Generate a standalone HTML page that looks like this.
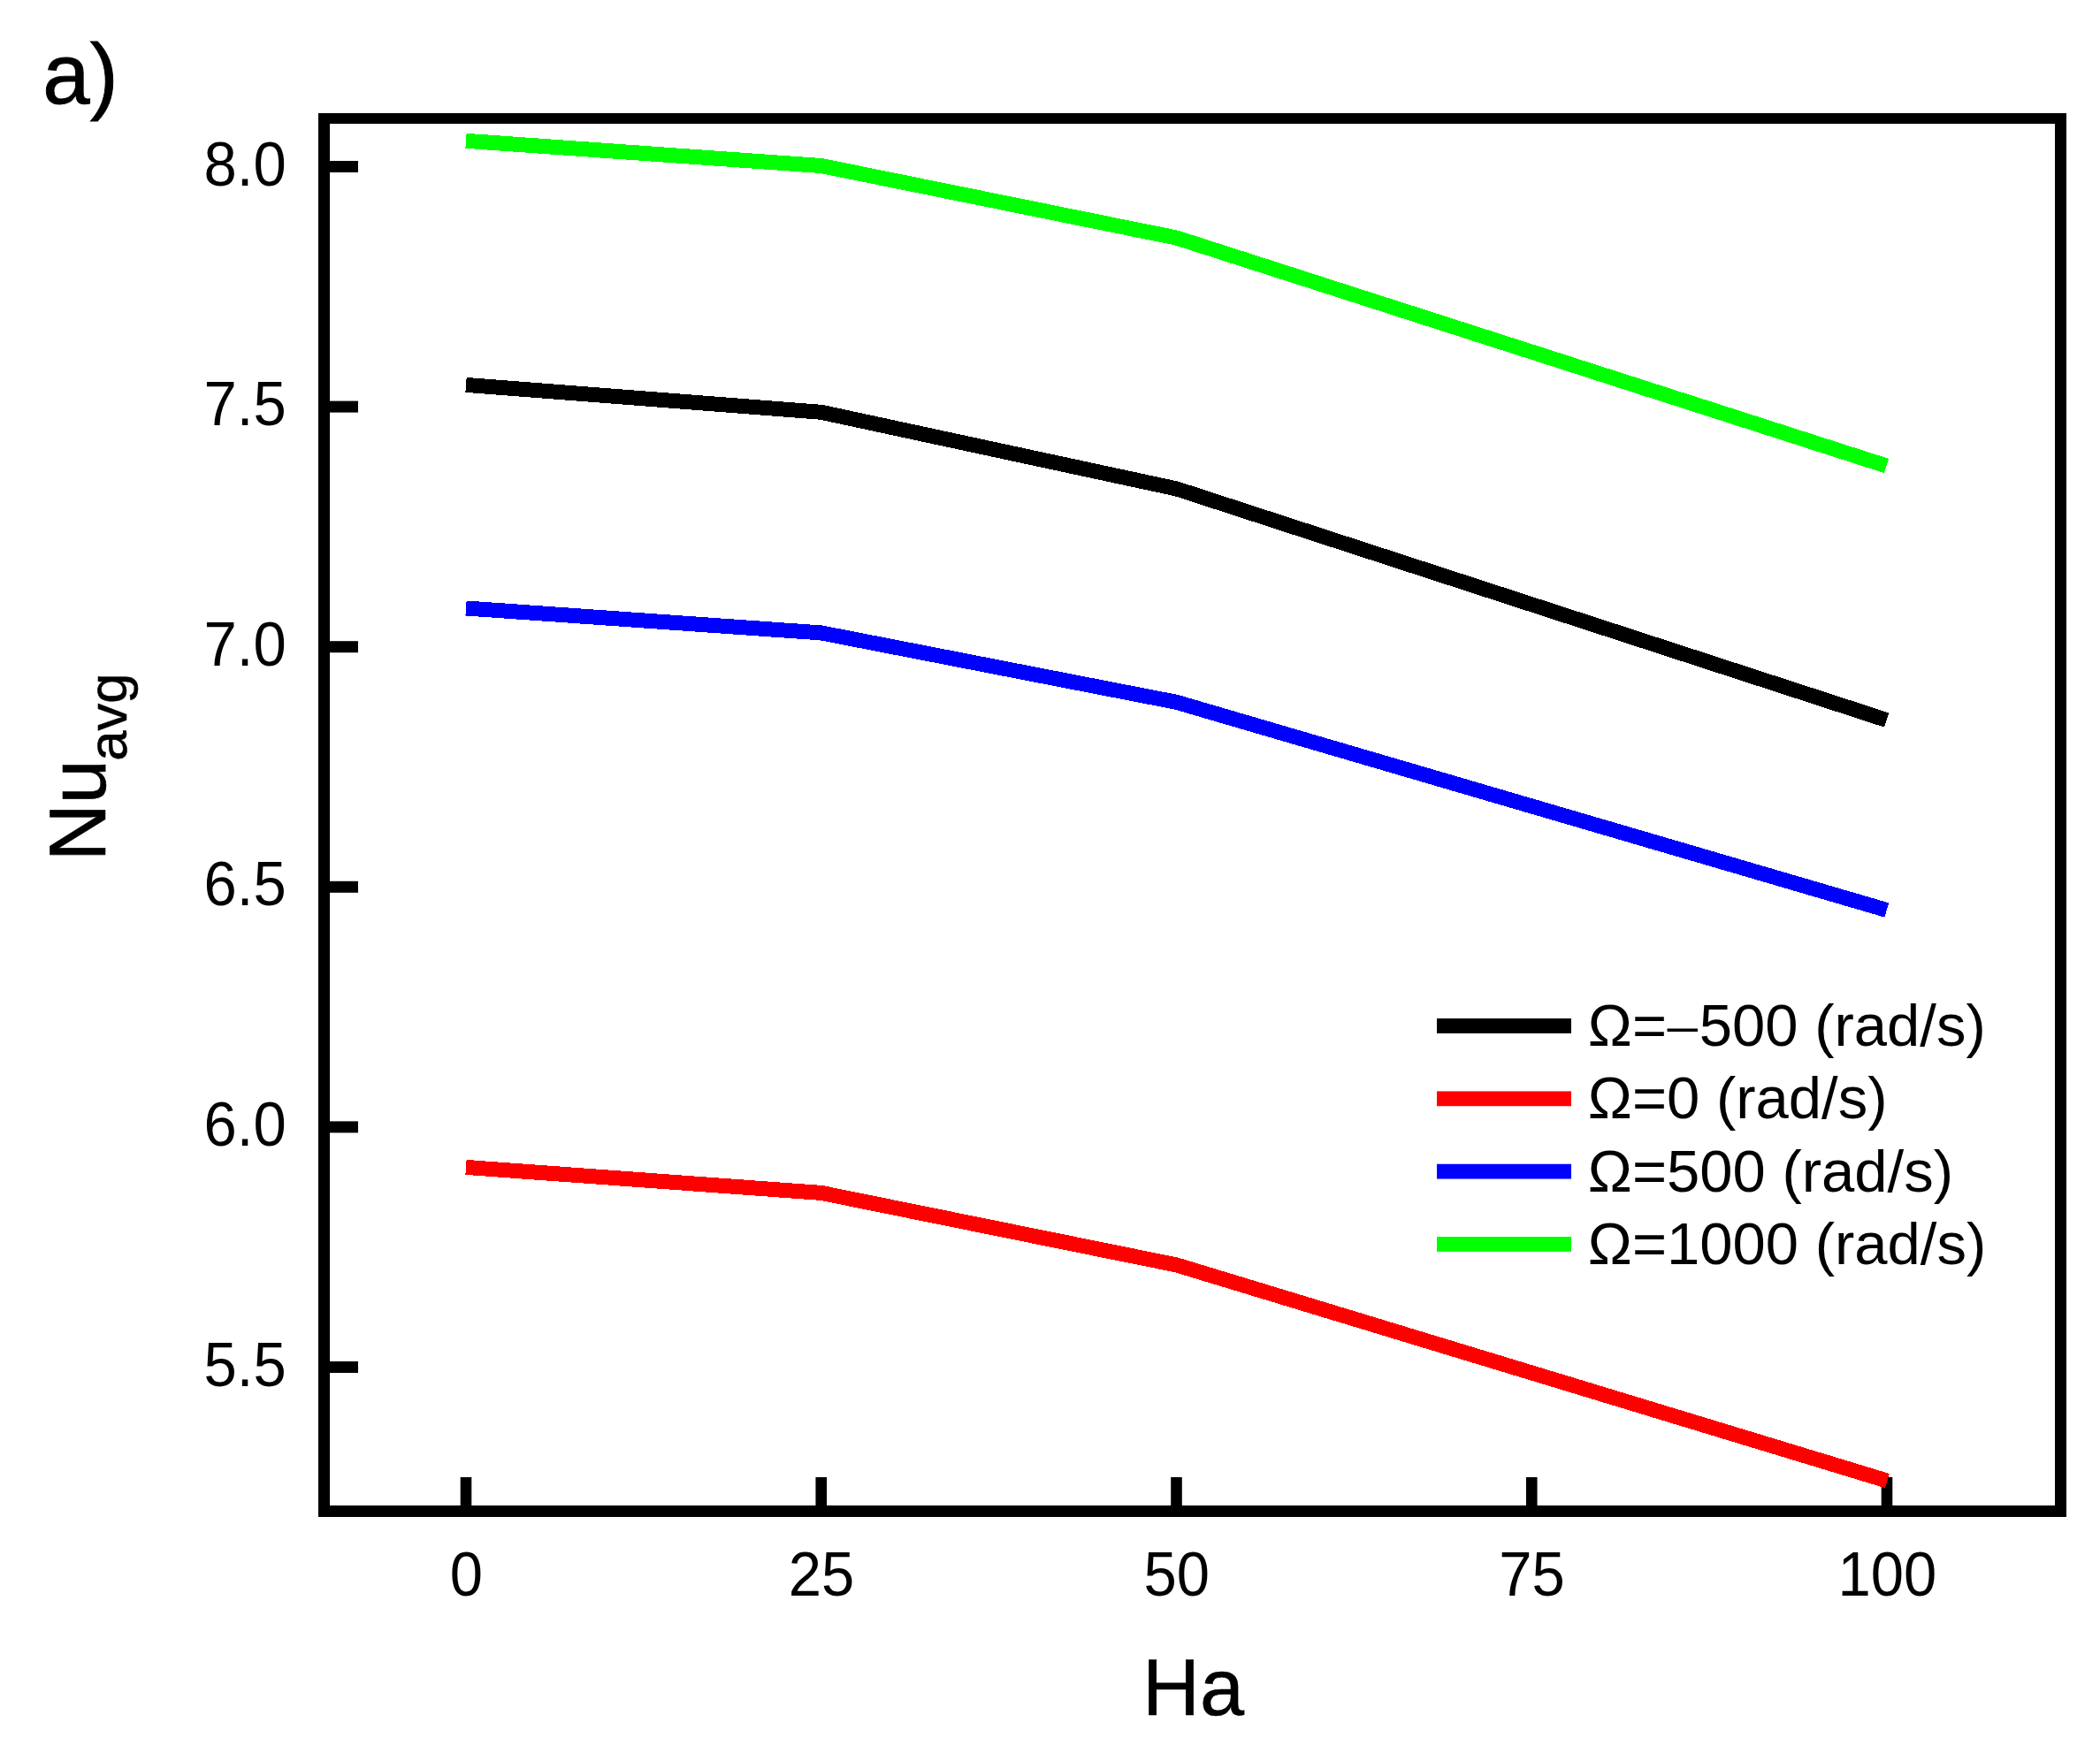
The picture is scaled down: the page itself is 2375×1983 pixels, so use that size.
<!DOCTYPE html>
<html lang="en">
<head>
<meta charset="utf-8">
<title>Nu avg vs Ha</title>
<style>
html,body{margin:0;padding:0;background:#fff;}
body{width:2375px;height:1983px;overflow:hidden;position:relative;}
svg{position:absolute;left:0;top:0;display:block;}
text{font-family:"Liberation Sans",Arial,sans-serif;fill:#000;}
.tk{font-size:67px;}
.lg{font-size:67px;}
</style>
</head>
<body>
<svg width="2375" height="1983" viewBox="0 0 2375 1983">
<rect x="0" y="0" width="2375" height="1983" fill="#ffffff"/>
<path fill="#000" fill-rule="evenodd" d="M360 128H2337V1716H360Z M373 140H2324V1703H373Z"/>
<rect x="372" y="182.00" width="33" height="13" fill="#000"/>
<text class="tk" transform="translate(323.7,209.60) scale(1,1.040)" text-anchor="end">8.0</text>
<rect x="372" y="453.60" width="33" height="13" fill="#000"/>
<text class="tk" transform="translate(323.7,481.20) scale(1,1.040)" text-anchor="end">7.5</text>
<rect x="372" y="725.20" width="33" height="13" fill="#000"/>
<text class="tk" transform="translate(323.7,752.80) scale(1,1.040)" text-anchor="end">7.0</text>
<rect x="372" y="996.80" width="33" height="13" fill="#000"/>
<text class="tk" transform="translate(323.7,1024.40) scale(1,1.040)" text-anchor="end">6.5</text>
<rect x="372" y="1268.40" width="33" height="13" fill="#000"/>
<text class="tk" transform="translate(323.7,1296.00) scale(1,1.040)" text-anchor="end">6.0</text>
<rect x="372" y="1540.00" width="33" height="13" fill="#000"/>
<text class="tk" transform="translate(323.7,1567.60) scale(1,1.040)" text-anchor="end">5.5</text>
<rect x="520.70" y="1671" width="12.6" height="33" fill="#000"/>
<text class="tk" transform="translate(527.30,1804.5) scale(1,1.040)" text-anchor="middle">0</text>
<rect x="922.45" y="1671" width="12.6" height="33" fill="#000"/>
<text class="tk" transform="translate(929.05,1804.5) scale(1,1.040)" text-anchor="middle">25</text>
<rect x="1324.20" y="1671" width="12.6" height="33" fill="#000"/>
<text class="tk" transform="translate(1330.80,1804.5) scale(1,1.040)" text-anchor="middle">50</text>
<rect x="1725.95" y="1671" width="12.6" height="33" fill="#000"/>
<text class="tk" transform="translate(1732.55,1804.5) scale(1,1.040)" text-anchor="middle">75</text>
<rect x="2127.70" y="1671" width="12.6" height="33" fill="#000"/>
<text class="tk" transform="translate(2134.30,1804.5) scale(1,1.040)" text-anchor="middle">100</text>
<polyline points="527.00,435.40 928.75,466.30 1330.50,552.90 2133.60,814.50" fill="none" stroke="#000000" stroke-width="17.0" stroke-linejoin="miter" stroke-linecap="butt" shape-rendering="crispEdges"/>
<polyline points="527.00,1320.40 928.75,1349.40 1330.50,1430.90 2134.40,1675.10" fill="none" stroke="#ff0000" stroke-width="17.0" stroke-linejoin="miter" stroke-linecap="butt" shape-rendering="crispEdges"/>
<polyline points="527.00,688.00 928.75,715.90 1330.50,794.30 2133.80,1029.50" fill="none" stroke="#0000ff" stroke-width="17.0" stroke-linejoin="miter" stroke-linecap="butt" shape-rendering="crispEdges"/>
<polyline points="527.00,159.30 928.75,187.50 1330.50,269.00 2133.60,527.00" fill="none" stroke="#00ff00" stroke-width="17.0" stroke-linejoin="miter" stroke-linecap="butt" shape-rendering="crispEdges"/>
<text x="1292" y="1939.8" font-size="90" stroke="#000" stroke-width="0.6">Ha</text>
<text transform="translate(119,974.2) rotate(-90)" font-size="90" stroke="#000" stroke-width="0.6">Nu<tspan font-size="61.5" x="113.4" y="24.2">avg</tspan></text>
<text x="48.3" y="116.6" font-size="96" stroke="#000" stroke-width="0.9">a)</text>
<rect x="1625" y="1152.10" width="152" height="16.8" fill="#000000"/>
<text class="lg" x="1795.85" y="1183.00">Ω=<tspan font-family="'Liberation Serif', serif" dx="1" dy="-2.4">–</tspan><tspan dx="2.2" dy="2.4">500 (rad/s)</tspan></text>
<rect x="1625" y="1234.43" width="152" height="16.8" fill="#ff0000"/>
<text class="lg" x="1795.85" y="1265.40">Ω=0 (rad/s)</text>
<rect x="1625" y="1316.76" width="152" height="16.8" fill="#0000ff"/>
<text class="lg" x="1795.85" y="1347.80">Ω=500 (rad/s)</text>
<rect x="1625" y="1399.09" width="152" height="16.8" fill="#00ff00"/>
<text class="lg" x="1795.85" y="1430.20">Ω=1000 (rad/s)</text>
</svg>
</body>
</html>
